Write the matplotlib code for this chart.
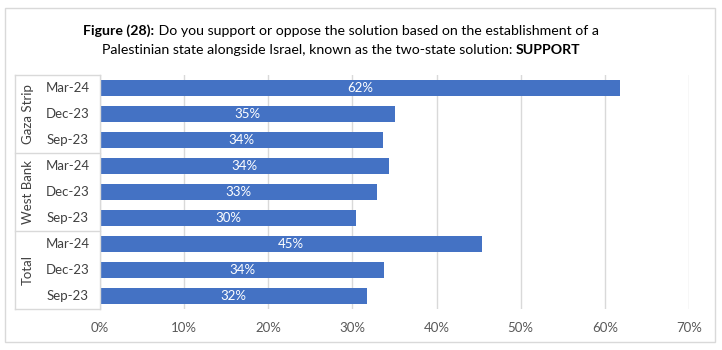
import matplotlib
matplotlib.use("Agg")
import matplotlib.pyplot as plt
from matplotlib.patches import Rectangle
from matplotlib.lines import Line2D
from matplotlib.transforms import blended_transform_factory

plt.rcParams['font.family'] = ['Lato', 'DejaVu Sans']

groups = ["Gaza Strip", "West Bank", "Total"]
periods = ["Mar-24", "Dec-23", "Sep-23"]
support = {
    "Gaza Strip": [61.8, 35.0, 33.6],
    "West Bank": [34.4, 32.9, 30.4],
    "Total": [45.4, 33.8, 31.7],
}
x_ticks = [0, 10, 20, 30, 40, 50, 60, 70]

W, H = 722, 350
fig = plt.figure(figsize=(W / 100, H / 100), dpi=100)
fig.patch.set_facecolor("white")

# outer frame
fig.add_artist(Rectangle((5 / W, 8 / H), 710 / W, 334 / H, transform=fig.transFigure,
                         fill=False, edgecolor="#d9d9d9", linewidth=1.0))

ax_l, ax_r, ax_t, ax_b = 100, 689, 75, 309
ax = fig.add_axes([ax_l / W, (H - ax_b) / H, (ax_r - ax_l) / W, (ax_b - ax_t) / H])

values = [v for g in groups for v in support[g]]
n = len(values)
ypos = list(range(n))

bar_color = "#4472C4"
ax.barh(ypos, values, height=0.64, color=bar_color, zorder=3)
for y, v in zip(ypos, values):
    ax.text(v / 2, y, f"{round(v):.0f}%", ha="center", va="center",
            color="white", fontsize=9.5, zorder=4)

ax.set_xlim(0, 70)
ax.set_ylim(n - 0.5, -0.5)
ax.set_xticks(x_ticks)
ax.set_xticklabels([f"{t}%" for t in x_ticks], color="#595959", fontsize=9.5)
ax.tick_params(axis="x", length=0, pad=9)
ax.set_yticks([])
ax.grid(axis="x", color="#d9d9d9", linewidth=1.0, zorder=0)
for s in ax.spines.values():
    s.set_visible(False)

# category box on the left
line_kw = dict(color="#d9d9d9", linewidth=1.0, clip_on=False)
trans = blended_transform_factory(fig.transFigure, ax.transData)
box_left = 15 / W
box_right = ax_l / W
fig.add_artist(Line2D([box_left, box_left], [-0.5, n - 0.5], transform=trans, **line_kw))
fig.add_artist(Line2D([box_right, box_right], [-0.5, n - 0.5], transform=trans, **line_kw))
for b in [-0.5, 2.5, 5.5, n - 0.5]:
    fig.add_artist(Line2D([box_left, box_right], [b, b], transform=trans, **line_kw))

for y, p in zip(ypos, periods * len(groups)):
    fig.text(68 / W, y, p, transform=trans, ha="center", va="center",
             color="#404040", fontsize=9.5)
for gi, g in enumerate(groups):
    fig.text(28 / W, gi * 3 + 1, g, transform=trans, ha="center", va="center",
             rotation=90, color="#404040", fontsize=9.5)

# two-line title with bold runs
t1a = "Figure (28):"
t1b = " Do you support or oppose the solution based on the establishment of a"
t2a = "Palestinian state alongside Israel, known as the two-state solution: "
t2b = "SUPPORT"

renderer = fig.canvas.get_renderer()


def centered_line(parts, y_px, cx_px=341):
    widths = []
    artists = []
    for txt, weight in parts:
        a = fig.text(0, (H - y_px) / H, txt, ha="left", va="center",
                     fontsize=10.2, fontweight=weight, color="#000000")
        widths.append(a.get_window_extent(renderer).width)
        artists.append(a)
    total = sum(widths)
    x = cx_px - total / 2
    for a, w in zip(artists, widths):
        a.set_x(x / W)
        x += w


centered_line([(t1a, "bold"), (t1b, "normal")], 31)
centered_line([(t2a, "normal"), (t2b, "bold")], 50)

fig.savefig("out.png", dpi=100, facecolor="white")
